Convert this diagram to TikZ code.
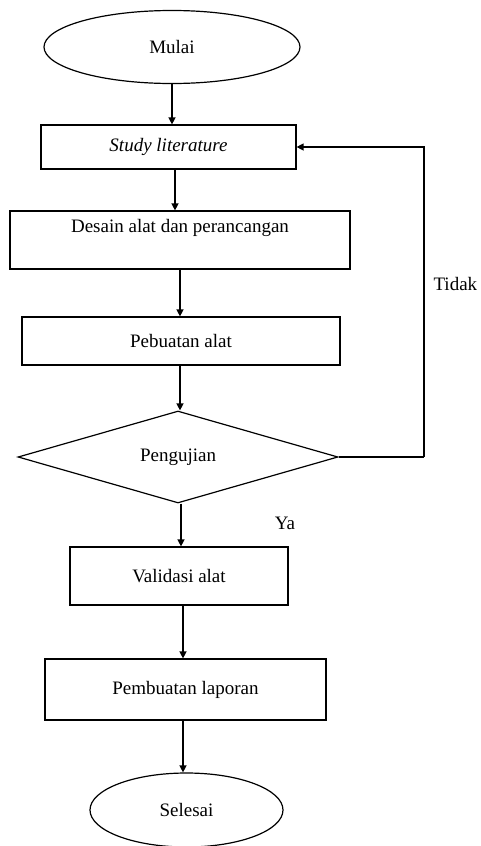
\documentclass[tikz,border=0pt]{standalone}
\usepackage{fontspec}
\setmainfont{Liberation Serif}
\usetikzlibrary{shapes.geometric,arrows.meta}
\begin{document}
\begin{tikzpicture}[x=1pt,y=-1pt,
  every node/.style={font=\fontsize{19}{22}\selectfont},
  term/.style={draw,ellipse,line width=1.2pt,inner sep=0pt},
  procbox/.style={draw,rectangle,line width=1.2pt,inner sep=0pt,align=center},
  decide/.style={draw,diamond,line width=1.2pt,inner sep=0pt,aspect=3.5},
  flow/.style={line width=1.3pt,-{Triangle[length=7pt,width=7pt]}},
  plain/.style={line width=1.3pt}]
\useasboundingbox (0,0) rectangle (480,846);
\node[term,minimum width=256pt,minimum height=73pt] (start) at (172,47) {Mulai};
\node[procbox,minimum width=255pt,minimum height=44pt] (study) at (168.5,147) {\itshape Study literature};
\node[procbox,minimum width=340pt,minimum height=58pt] (desain) at (180,240) {Desain alat dan perancangan\\ \strut};
\node[procbox,minimum width=318pt,minimum height=48pt] (buat) at (181,341) {Pebuatan alat};
\node[decide,minimum width=320pt,minimum height=92pt] (uji) at (178,457) {Pengujian};
\node[procbox,minimum width=218pt,minimum height=58pt] (valid) at (179,576) {Validasi alat};
\node[procbox,minimum width=281pt,minimum height=61pt] (lapor) at (185.5,689.5) {Pembuatan laporan};
\node[term,minimum width=193pt,minimum height=74pt] (end) at (186.5,810) {Selesai};
\coordinate (fb) at (424,457);
\draw[flow] (start.south) -- (start.south |- study.north);
\draw[flow] ([xshift=6.5pt]study.south) -- ([xshift=6.5pt]study.south |- desain.north);
\draw[flow] (desain.south) -- (desain.south |- buat.north);
\draw[flow] ([xshift=-1pt]buat.south) -- ([xshift=-1pt]buat.south |- uji.north);
\draw[flow] ([xshift=3pt]uji.south) -- ([xshift=3pt]uji.south |- valid.north);
\draw[flow] ([xshift=4pt]valid.south) -- ([xshift=4pt]valid.south |- lapor.north);
\draw[flow] ([xshift=-2.5pt]lapor.south) -- ([xshift=-2.5pt]lapor.south |- end.north);
\draw[plain] (uji.east) -- (fb);
\draw[flow] (fb) |- (study.east);
\node[anchor=west] (tidak) at (430,284) {Tidak};
\node (ya) at (285,523) {Ya};
\end{tikzpicture}
\end{document}
